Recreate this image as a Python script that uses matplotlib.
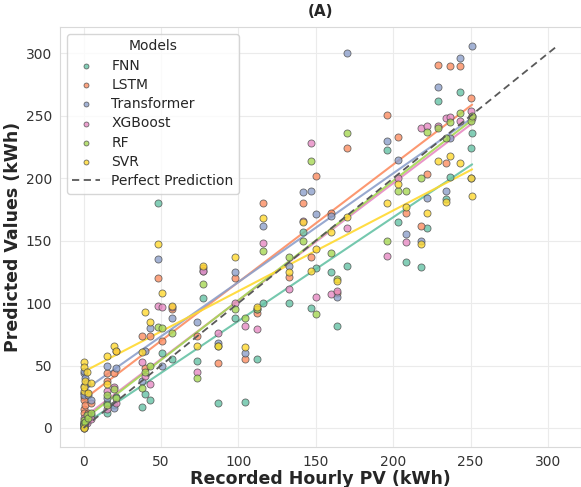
import matplotlib
matplotlib.use('Agg')
import matplotlib.pyplot as plt
import numpy as np
import seaborn as sns

# Recorded hourly PV (kWh), shared by every model
recorded = [0, 0, 0, 0, 0, 1, 2, 3, 5, 15, 15, 20, 21, 38, 40, 43, 48, 51, 57, 73, 77, 87,
            98, 104, 112, 116, 133, 142, 147, 150, 160, 164, 170, 196, 203, 208, 218, 222,
            229, 234, 237, 243, 250, 251]

# Predicted values per model (kWh)
fnn = [2, 0, 3, 1, 5, 4, 8, 6, 10, 12, 20, 18, 25, 17, 27, 22, 180, 60, 55, 54, 104, 20,
       88, 21, 55, 100, 100, 157, 96, 128, 125, 82, 130, 223, 165, 133, 129, 160,
       262, 183, 201, 269, 224, 236]
lstm = [25, 15, 22, 28, 12, 18, 28, 12, 20, 38, 44, 44, 62, 74, 48, 74, 120, 70, 95, 74, 128, 52,
        120, 55, 92, 180, 121, 180, 137, 202, 172, 108, 224, 251, 233, 172, 162, 203,
        291, 212, 290, 290, 264, 250]
transformer = [44, 28, 46, 26, 34, 40, 36, 26, 22, 50, 24, 16, 48, 38, 62, 80, 135, 50, 88, 85, 126, 68,
               125, 60, 95, 162, 130, 189, 190, 171, 170, 105, 300, 230, 215, 155, 150, 184,
               273, 190, 232, 296, 200, 306]
xgboost = [0, 2, 5, 3, 8, 6, 4, 10, 7, 15, 30, 33, 20, 53, 42, 35, 98, 97, 97, 45, 126, 76,
           100, 82, 79, 148, 111, 166, 228, 105, 107, 110, 160, 138, 200, 149, 240, 242,
           242, 248, 249, 246, 254, 248]
rf = [1, 3, 6, 4, 2, 5, 10, 8, 12, 18, 26, 31, 24, 32, 45, 50, 81, 80, 76, 40, 115, 66,
      95, 88, 95, 142, 137, 150, 214, 91, 140, 119, 236, 150, 190, 190, 200, 237,
      240, 232, 245, 252, 246, 250]
svr = [53, 49, 30, 33, 0, 38, 45, 28, 36, 58, 35, 66, 62, 61, 93, 85, 147, 108, 98, 66, 130, 66,
       137, 65, 97, 168, 125, 165, 126, 143, 157, 118, 169, 180, 195, 177, 147, 172,
       214, 181, 218, 212, 200, 186]

model_names = ['FNN', 'LSTM', 'Transformer', 'XGBoost', 'RF', 'SVR']
predictions = [fnn, lstm, transformer, xgboost, rf, svr]

sns.set_style('whitegrid')
colors = sns.color_palette('Set2', 6)

fig = plt.figure(figsize=(5.81, 4.87), dpi=100)
ax = fig.add_axes([0.103, 0.082, 0.897, 0.863])

x = np.array(recorded, dtype=float)
for name, pred, c in zip(model_names, predictions, colors):
    y = np.array(pred, dtype=float)
    ax.scatter(x, y, s=26, color=c, alpha=0.8, edgecolor='0.3', linewidth=0.6, label=name, zorder=3)
    coef = np.polyfit(x, y, 1)
    xx = np.array([x.min(), x.max()])
    ax.plot(xx, np.poly1d(coef)(xx), color=c, linewidth=1.5, alpha=0.9, zorder=2)

# Perfect prediction line
all_vals = np.concatenate([x] + [np.array(p, dtype=float) for p in predictions])
lo, hi = all_vals.min(), all_vals.max()
ax.plot([lo, hi], [lo, hi], linestyle=(0, (4, 2.5)), color='0.35', linewidth=1.3,
        label='Perfect Prediction', zorder=4)

ax.set_xticks([0, 50, 100, 150, 200, 250, 300])
ax.set_yticks([0, 50, 100, 150, 200, 250, 300])
ax.tick_params(labelsize=10, colors='0.2', pad=2)
ax.set_xlabel('Recorded Hourly PV (kWh)', fontsize=12.5, fontweight='bold', labelpad=1)
ax.set_ylabel('Predicted Values (kWh)', fontsize=12.5, fontweight='bold', labelpad=3)
ax.set_title('(A)', fontsize=11, fontweight='bold', pad=8)
ax.grid(True, color='0.92')
for s in ax.spines.values():
    s.set_color('0.85')

leg = ax.legend(title='Models', loc='upper left', fontsize=10, title_fontsize=10,
                markerscale=0.7, labelspacing=0.38, frameon=True)

fig.savefig('out.png', dpi=100)
